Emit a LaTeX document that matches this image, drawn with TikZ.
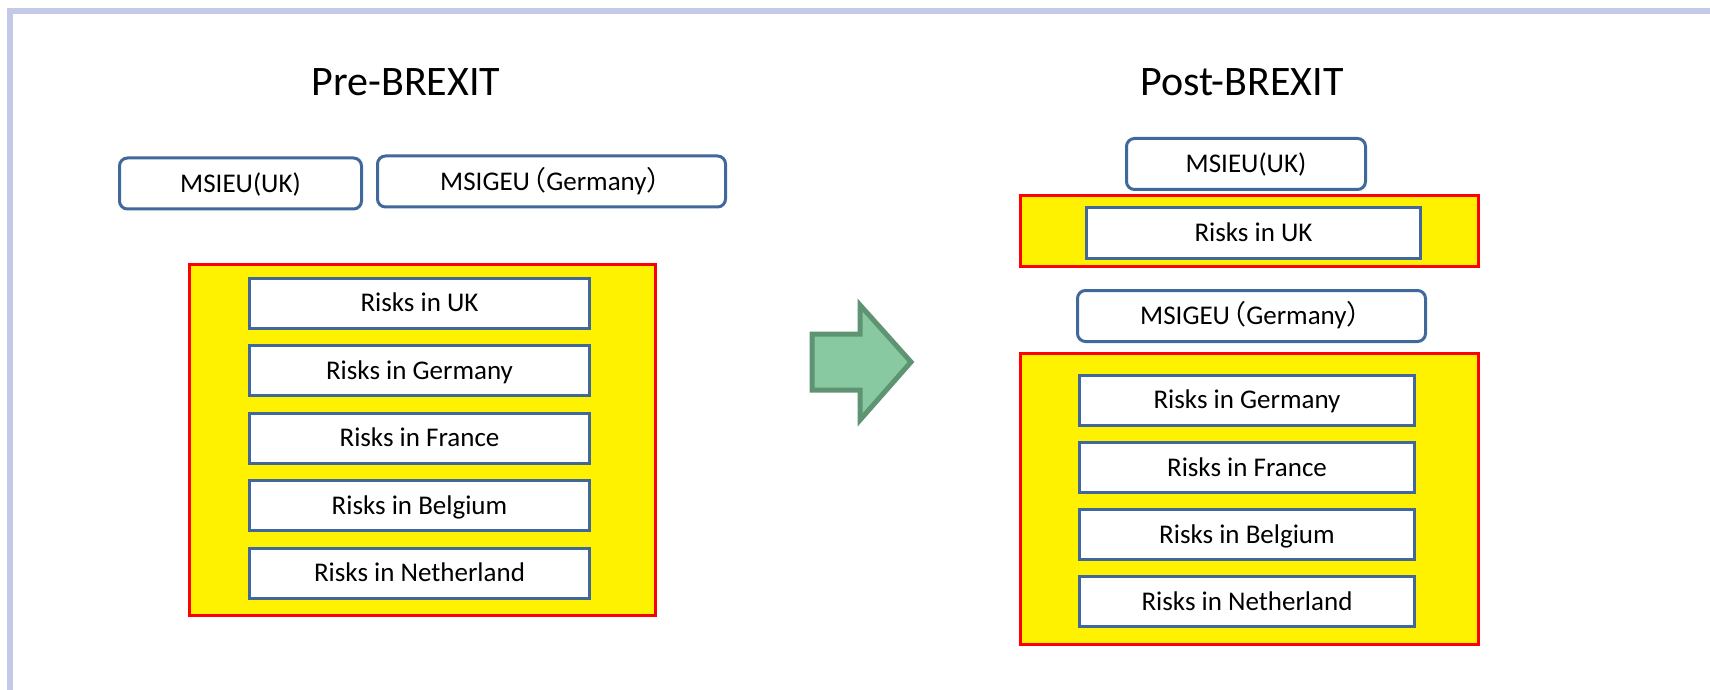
\documentclass[tikz,border=0pt]{standalone}
\usepackage{fontspec}
\setmainfont{Carlito}
\newfontfamily\cjk{Noto Sans CJK JP}
\definecolor{boxblue}{HTML}{41689A}
\definecolor{framelilac}{HTML}{C5C9E9}
\definecolor{arrowfill}{HTML}{88C9A1}
\definecolor{arrowline}{HTML}{5F9473}
\newcommand{\msig}{MSIGEU{\cjk\kern-0.4em（}Germany{\cjk ）\kern-0.4em}}
\tikzset{
  riskbox/.style={draw=boxblue, line width=1.5pt, fill=white, inner sep=0pt,
    minimum height=25pt, text height=8.7pt, text depth=0pt,
    font=\fontsize{13.5}{16}\selectfont},
  entitybox/.style={riskbox, rounded corners=4pt, minimum height=25.5pt},
  zone/.style={draw=red, line width=1.5pt, fill=yellow, inner sep=0pt},
  heading/.style={font=\fontsize{21}{25}\selectfont}
}
\begin{document}
\begin{tikzpicture}[x=0.5pt,y=-0.5pt]
	\useasboundingbox (0,0) rectangle (1710,690);
	\fill [white] (0,0) rectangle (1710,690);
	% frame
	\draw [framelilac,line width=3pt] (10,695) -- (10,11) -- (1715,11);

	%pre-brexit
	\node [heading] (pretitle) at (406,82) {Pre-BREXIT};
	\node [entitybox,minimum width=121pt] (premsi) at (240.5,183.5) {MSIEU(UK)};
	\node [entitybox,minimum width=174pt] (premsig) at (551.5,181.5) {\msig};
	\node [zone,minimum width=233pt,minimum height=175.5pt] (prezone) at (422.5,440) {};
	\foreach \name/\land [count=\i] in {uk/UK,de/Germany,fr/France,be/Belgium,nl/Netherland}
		\node [riskbox,minimum width=170pt] (pre-\name) at (419.5,{303+67.5*(\i-1)}) {Risks in \land};

	% arrow
	\filldraw [fill=arrowfill,draw=arrowline,line width=2.5pt,line join=miter]
		(812,334) -- (860,334) -- (860,305) -- (911,362) -- (860,420) -- (860,390) -- (812,390) -- cycle;

	%post-brexit
	\node [heading] (posttitle) at (1242,82) {Post-BREXIT};
	\node [entitybox,minimum width=119.5pt] (postmsi) at (1246,164) {MSIEU(UK)};
	\node [zone,minimum width=229pt,minimum height=35.5pt] (postukzone) at (1249.5,231) {};
	\node [riskbox,minimum width=167pt] (post-uk) at (1253.5,233) {Risks in UK};
	\node [entitybox,minimum width=174pt] (postmsig) at (1251.5,316) {\msig};
	\node [zone,minimum width=229pt,minimum height=145.5pt] (postzone) at (1249.5,499) {};
	\foreach \name/\land [count=\i] in {de/Germany,fr/France,be/Belgium,nl/Netherland}
		\node [riskbox,minimum width=167.5pt] (post-\name) at (1247,{400+67.33*(\i-1)}) {Risks in \land};
\end{tikzpicture}
\end{document}
